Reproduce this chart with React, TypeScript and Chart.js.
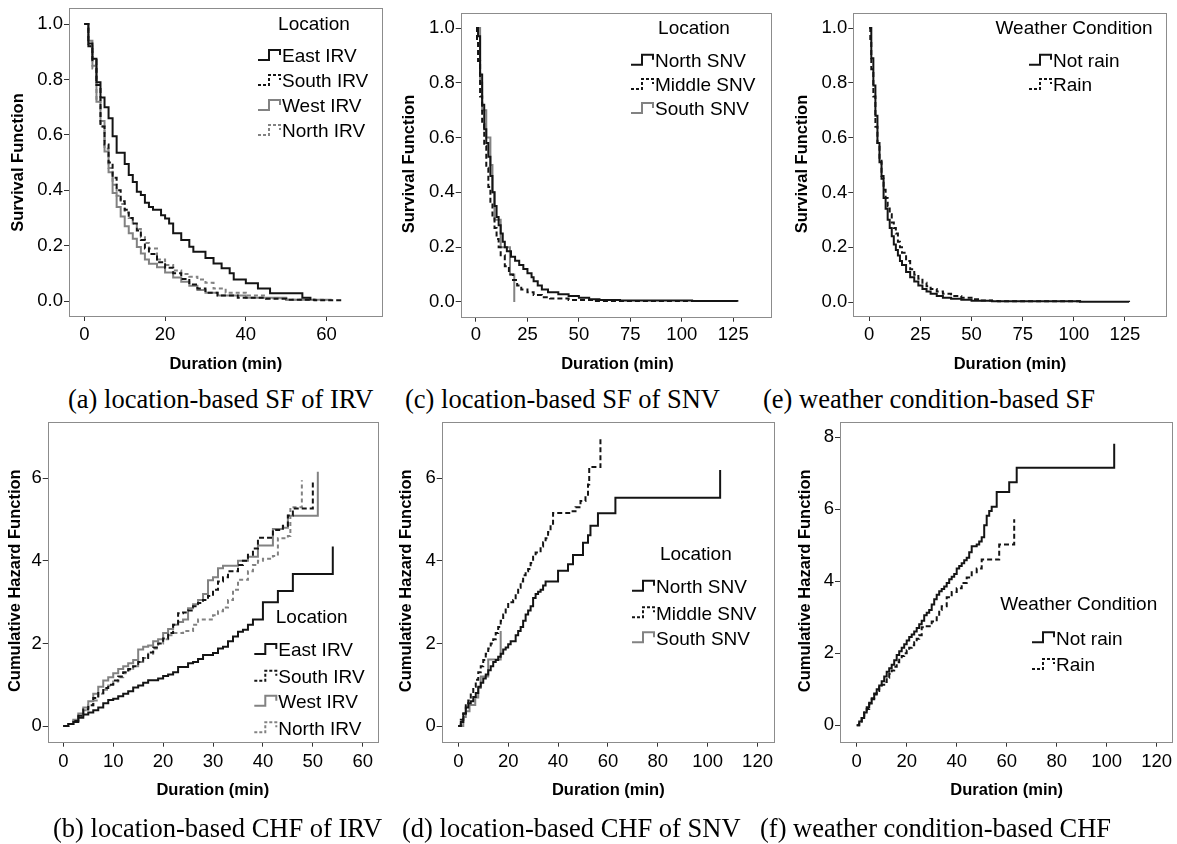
import React, { useEffect, useRef } from "react";
import { Chart, registerables } from "chart.js";

Chart.register(...registerables);

type Pt = [number, number];

// ---------- (a) Survival function, IRV by location ----------
const sfEastIRV: Pt[] = [[0,1],[1,0.93],[2,0.875],[3,0.79],[4,0.735],[5,0.70],[6,0.66],[7,0.595],[8,0.535],[10,0.495],[11,0.455],[12,0.43],[13,0.395],[14,0.383],[15,0.355],[16,0.34],[17,0.33],[19,0.31],[20,0.298],[21,0.28],[22,0.245],[24,0.22],[26,0.196],[27,0.178],[30,0.155],[32,0.136],[34,0.118],[36,0.10],[37,0.078],[40,0.064],[43,0.045],[46,0.028],[54,0.012],[56,0.003]];
const sfSouthIRV: Pt[] = [[0,1],[1,0.92],[2,0.87],[3,0.78],[4,0.63],[5,0.565],[6,0.50],[7,0.445],[8,0.40],[9,0.36],[10,0.33],[11,0.30],[12,0.28],[13,0.255],[14,0.22],[15,0.19],[16,0.17],[18,0.14],[20,0.12],[22,0.10],[24,0.08],[26,0.06],[28,0.045],[30,0.03],[33,0.02],[38,0.012],[45,0.008],[50,0.005],[57,0.003],[64,0.003]];
const sfWestIRV: Pt[] = [[0,1],[1,0.94],[2,0.85],[3,0.72],[4,0.65],[5,0.54],[6,0.465],[7,0.39],[8,0.34],[9,0.305],[10,0.27],[11,0.245],[12,0.225],[13,0.195],[14,0.172],[15,0.15],[16,0.135],[18,0.122],[20,0.103],[22,0.085],[24,0.07],[26,0.055],[28,0.04],[30,0.03],[33,0.02],[40,0.012],[50,0.005],[61,0.003]];
const sfNorthIRV: Pt[] = [[0,1],[1,0.92],[2,0.84],[3,0.73],[4,0.63],[5,0.55],[6,0.48],[7,0.42],[8,0.38],[9,0.35],[10,0.32],[11,0.30],[12,0.28],[13,0.26],[14,0.23],[15,0.21],[16,0.19],[18,0.15],[20,0.13],[22,0.11],[24,0.098],[26,0.088],[28,0.078],[30,0.066],[32,0.045],[35,0.03],[40,0.02],[45,0.01],[50,0.005],[60,0.003]];

// ---------- (c) Survival function, SNV by location ----------
const sfNorthSNV: Pt[] = [[0,1],[1,0.97],[2,0.83],[3,0.72],[4,0.63],[5,0.58],[6,0.53],[7,0.46],[8,0.40],[9,0.35],[10,0.31],[11,0.28],[12,0.25],[13,0.22],[14,0.20],[15,0.185],[17,0.165],[19,0.15],[21,0.135],[23,0.12],[25,0.105],[27,0.09],[28,0.075],[30,0.06],[32,0.045],[35,0.035],[40,0.028],[45,0.022],[50,0.015],[55,0.01],[60,0.007],[70,0.005],[105,0.003],[127,0.001]];
const sfMiddleSNV: Pt[] = [[0,1],[0.5,0.95],[1,0.88],[2,0.75],[3,0.65],[4,0.57],[5,0.49],[6,0.42],[7,0.36],[8,0.31],[9,0.27],[10,0.23],[11,0.20],[12,0.17],[14,0.13],[16,0.10],[18,0.08],[20,0.06],[22,0.045],[25,0.035],[28,0.025],[32,0.017],[36,0.012],[45,0.007],[57,0.003],[105,0.002]];
const sfSouthSNV: Pt[] = [[0,1],[2,0.8],[3,0.7],[5,0.6],[7,0.5],[8,0.4],[9,0.3],[12,0.2],[16.5,0.1],[18.6,0]];

// ---------- (e) Survival function by weather ----------
const sfNotRain: Pt[] = [[0,1],[1,0.89],[2,0.79],[3,0.68],[4,0.58],[5,0.51],[6,0.45],[7,0.38],[8,0.34],[9,0.30],[10,0.27],[11,0.24],[12,0.21],[13,0.19],[14,0.17],[15,0.15],[16,0.135],[18,0.11],[20,0.09],[22,0.075],[24,0.06],[26,0.048],[28,0.038],[30,0.03],[33,0.022],[36,0.016],[40,0.012],[45,0.008],[50,0.005],[60,0.003],[103,0.001],[127,0]];
const sfRain: Pt[] = [[0,1],[0.5,0.96],[1,0.85],[2,0.75],[3,0.64],[4,0.58],[5,0.52],[6,0.46],[7,0.41],[8,0.38],[9,0.35],[10,0.32],[11,0.29],[12,0.27],[13,0.25],[14,0.22],[15,0.20],[16,0.18],[18,0.15],[20,0.12],[22,0.10],[24,0.085],[26,0.07],[28,0.058],[30,0.048],[33,0.038],[36,0.03],[40,0.022],[45,0.016],[50,0.01],[55,0.006],[60,0.004],[63,0.003],[105,0.001]];

// ---------- (b) Cumulative hazard, IRV by location ----------
const chfEastIRV: Pt[] = [[0,0],[1,0.05],[2,0.1],[3,0.2],[4,0.28],[5,0.33],[6,0.38],[7,0.45],[8,0.55],[9,0.63],[10,0.66],[11,0.72],[12,0.78],[13,0.84],[14,0.93],[15,0.98],[16,1.05],[17,1.11],[19,1.15],[20,1.21],[21,1.25],[22,1.3],[23,1.43],[25,1.52],[26,1.55],[27,1.62],[28,1.72],[30,1.77],[31,1.88],[32,1.92],[33,2.05],[34,2.17],[35,2.28],[36,2.33],[37,2.45],[38,2.58],[40,3.0],[43,3.27],[46,3.68],[54,4.35]];
const chfSouthIRV: Pt[] = [[0,0],[1,0.05],[2,0.12],[3,0.25],[4,0.4],[5,0.5],[6,0.68],[7,0.8],[8,0.92],[9,1.0],[10,1.1],[11,1.2],[12,1.3],[13,1.38],[14,1.45],[15,1.55],[16,1.65],[17,1.78],[18,1.9],[19,2.0],[20,2.12],[21,2.25],[22,2.45],[23,2.73],[24,2.75],[25,2.8],[26,2.9],[27,2.98],[28,3.05],[29,3.15],[30,3.3],[31,3.5],[32,3.6],[33,3.75],[35,3.9],[36,4.0],[37,4.15],[38,4.3],[39,4.56],[42,4.75],[44,4.85],[45,5.1],[46,5.27],[50,5.96]];
const chfWestIRV: Pt[] = [[0,0],[1,0.05],[2,0.15],[3,0.3],[4,0.45],[5,0.6],[6,0.78],[7,0.95],[8,1.1],[9,1.18],[10,1.28],[11,1.38],[12,1.45],[13,1.52],[14,1.6],[15,1.85],[16,1.92],[17,1.95],[18,2.05],[19,2.1],[20,2.25],[21,2.35],[22,2.45],[23,2.52],[24,2.58],[25,2.85],[26,2.95],[27,3.05],[28,3.2],[29,3.53],[30,3.6],[31,3.82],[32,3.88],[35,4.0],[37,4.1],[39,4.37],[42,4.77],[44,4.8],[45,5.09],[51,6.16]];
const chfNorthIRV: Pt[] = [[0,0],[1,0.05],[2,0.12],[3,0.25],[4,0.38],[5,0.5],[6,0.62],[7,0.78],[8,0.88],[9,0.98],[10,1.08],[11,1.18],[12,1.28],[13,1.35],[14,1.45],[15,1.55],[16,1.65],[17,1.75],[18,1.88],[19,2.0],[20,2.1],[21,2.2],[22,2.25],[24,2.3],[26,2.45],[27,2.58],[30,2.68],[31,2.78],[32,2.87],[33,3.05],[34,3.3],[35,3.54],[37,3.75],[38,3.9],[39,4.0],[40,4.05],[42,4.12],[43,4.55],[45,4.6],[45.5,5.3],[47.8,5.95]];

// ---------- (d) Cumulative hazard, SNV by location ----------
const chfNorthSNV: Pt[] = [[0,0],[1,0.1],[2,0.3],[3,0.45],[4,0.55],[5,0.6],[6,0.7],[7,0.8],[8,0.95],[9,1.05],[10,1.15],[11,1.25],[12,1.35],[13,1.45],[14,1.55],[15,1.6],[16,1.68],[17,1.75],[18,1.85],[19,1.9],[20,1.98],[21,2.05],[23,2.2],[24,2.3],[25,2.4],[26,2.55],[27,2.7],[28,2.8],[29,2.9],[30,3.1],[31,3.2],[32,3.25],[33,3.3],[34,3.4],[35,3.5],[40,3.76],[44,3.92],[46,4.14],[50,4.44],[52,4.62],[53,4.85],[56,5.15],[63,5.53],[105,6.2]];
const chfMiddleSNV: Pt[] = [[0,0],[1,0.15],[2,0.3],[3,0.5],[4,0.62],[5,0.8],[6,0.95],[7,1.12],[8,1.3],[9,1.45],[10,1.6],[11,1.75],[12,1.88],[13,2.0],[14,2.1],[15,2.25],[16,2.4],[17,2.55],[18,2.7],[19,2.85],[20,3.0],[22,3.05],[23,3.2],[24,3.35],[25,3.5],[26,3.65],[27,3.75],[28,3.8],[29,3.95],[30,4.1],[31,4.2],[33,4.35],[34,4.45],[35,4.55],[36,4.7],[37,4.9],[38,5.16],[45,5.2],[47,5.3],[49,5.45],[51,5.6],[52,5.85],[52.5,6.27],[57,6.95]];
const chfSouthSNV: Pt[] = [[0,0],[2,0.22],[3,0.36],[4.5,0.51],[6.8,0.69],[8,0.92],[9,1.2],[12,1.61],[17,2.3]];

// ---------- (f) Cumulative hazard by weather ----------
const chfNotRain: Pt[] = [[0,0],[1,0.1],[2,0.2],[3,0.35],[4,0.5],[5,0.62],[6,0.75],[7,0.88],[8,1.0],[9,1.1],[10,1.22],[11,1.35],[12,1.48],[13,1.58],[14,1.68],[15,1.8],[16,1.95],[17,2.05],[18,2.15],[19,2.25],[20,2.35],[21,2.45],[22,2.52],[23,2.6],[24,2.7],[25,2.8],[26,2.9],[27,3.05],[28,3.12],[29,3.2],[30,3.35],[31,3.5],[32,3.62],[33,3.72],[34,3.78],[35,3.85],[36,3.95],[37,4.05],[38,4.12],[39,4.2],[40,4.35],[41,4.42],[42,4.5],[43,4.58],[44,4.65],[45,4.8],[46,4.97],[48,5.02],[49,5.1],[50,5.22],[51,5.55],[52,5.82],[53,5.95],[54,6.07],[56,6.48],[61,6.75],[64,7.15],[103,7.82]];
const chfRain: Pt[] = [[0,0],[1,0.1],[2,0.2],[3,0.35],[4,0.45],[5,0.6],[6,0.72],[7,0.85],[8,0.95],[9,1.05],[10,1.12],[11,1.2],[12,1.32],[13,1.42],[14,1.52],[15,1.62],[16,1.75],[17,1.85],[18,1.92],[19,2.0],[20,2.08],[21,2.15],[22,2.22],[23,2.3],[24,2.4],[25,2.5],[26,2.72],[28,2.75],[30,2.88],[32,3.0],[33,3.2],[34,3.3],[36,3.55],[38,3.7],[40,3.8],[42,3.95],[44,4.1],[46,4.25],[48,4.35],[50,4.6],[57,5.02],[63,5.72]];

// ---------- tick labels ----------
const xTicksSFIRV = [0, 20, 40, 60];
const xTicksSF125 = [0, 25, 50, 75, 100, 125];
const yTicksSF = [0, 0.2, 0.4, 0.6, 0.8, 1.0];
const xTicksCHFIRV = [0, 10, 20, 30, 40, 50, 60];
const xTicksCHF120 = [0, 20, 40, 60, 80, 100, 120];
const yTicksCHF6 = [0, 2, 4, 6];
const yTicksCHF8 = [0, 2, 4, 6, 8];

const labelsIRV = ["East IRV", "South IRV", "West IRV", "North IRV"];
const labelsSNV = ["North SNV", "Middle SNV", "South SNV"];
const labelsWeather = ["Not rain", "Rain"];

const captions = [
  "(a) location-based SF of IRV",
  "(c) location-based SF of SNV",
  "(e) weather condition-based SF",
  "(b) location-based CHF of IRV",
  "(d) location-based CHF of SNV",
  "(f) weather condition-based CHF",
];

// ---------- styles ----------
const BLACK = "#141414";
const GRAY = "#828282";
const FRAME = "#8c8c8c";
const SOLID: number[] = [];
const DASH_B = [5, 3];
const DASH_G = [4, 3];
const SANS = '"Liberation Sans", Arial, sans-serif';

interface SeriesDef { label: string; data: Pt[]; color: string; dash: number[] }
interface PanelDef {
  box: [number, number, number, number];
  frame: [number, number, number, number];
  xRange: [number, number];
  yRange: [number, number];
  xTicks: number[];
  yTicks: number[];
  yDecimals: number;
  xPad: number;
  yTitle: string;
  yTitlePos: [number, number];
  xTitlePos: [number, number];
  legendTitle: string;
  legendTitlePos: [number, number];
  legendX: number;
  legendYs: number[];
  series: SeriesDef[];
}

const irvStyles = [
  { color: BLACK, dash: SOLID },
  { color: BLACK, dash: DASH_B },
  { color: GRAY, dash: SOLID },
  { color: GRAY, dash: DASH_G },
];
const snvStyles = [
  { color: BLACK, dash: SOLID },
  { color: BLACK, dash: DASH_B },
  { color: GRAY, dash: SOLID },
];
const wxStyles = [
  { color: BLACK, dash: SOLID },
  { color: BLACK, dash: DASH_B },
];

const mk = (labels: string[], data: Pt[][], styles: { color: string; dash: number[] }[]): SeriesDef[] =>
  labels.map((l, i) => ({ label: l, data: data[i], color: styles[i].color, dash: styles[i].dash }));

const panels: PanelDef[] = [
  {
    box: [0, 0, 388, 380], frame: [69, 8.3, 382.3, 316],
    xRange: [-3.8, 73.8], yRange: [-0.054, 1.057],
    xTicks: xTicksSFIRV, yTicks: yTicksSF, yDecimals: 1, xPad: 3,
    yTitle: "Survival Function", yTitlePos: [18.3, 162.5], xTitlePos: [225.8, 364],
    legendTitle: "Location", legendTitlePos: [314, 25], legendX: 282, legendYs: [56, 81, 106, 131],
    series: mk(labelsIRV, [sfEastIRV, sfSouthIRV, sfWestIRV, sfNorthIRV], irvStyles),
  },
  {
    box: [390, 0, 386, 380], frame: [460.7, 12.7, 770.7, 316.7],
    xRange: [-7.43, 143.2], yRange: [-0.054, 1.056],
    xTicks: xTicksSF125, yTicks: yTicksSF, yDecimals: 1, xPad: 2.5,
    yTitle: "Survival Function", yTitlePos: [409, 164], xTitlePos: [617.5, 364],
    legendTitle: "Location", legendTitlePos: [694, 29], legendX: 655, legendYs: [60.7, 85, 109],
    series: mk(labelsSNV, [sfNorthSNV, sfMiddleSNV, sfSouthSNV], snvStyles),
  },
  {
    box: [780, 0, 397, 380], frame: [853.3, 12.7, 1166.7, 316],
    xRange: [-7.8, 145.4], yRange: [-0.051, 1.056],
    xTicks: xTicksSF125, yTicks: yTicksSF, yDecimals: 1, xPad: 3,
    yTitle: "Survival Function", yTitlePos: [802, 164], xTitlePos: [1010, 364],
    legendTitle: "Weather Condition", legendTitlePos: [1074, 29], legendX: 1053, legendYs: [60.7, 85],
    series: mk(labelsWeather, [sfNotRain, sfRain], wxStyles),
  },
  {
    box: [0, 415, 388, 400], frame: [47.7, 421.7, 377.7, 741.7],
    xRange: [-3.13, 63.0], yRange: [-0.38, 7.37],
    xTicks: xTicksCHFIRV, yTicks: yTicksCHF6, yDecimals: 0, xPad: 4,
    yTitle: "Cumulative Hazard Function", yTitlePos: [15, 580.7], xTitlePos: [212.8, 790.7],
    legendTitle: "Location", legendTitlePos: [311.7, 617.3], legendX: 278.3, legendYs: [650, 676.7, 701.7, 728.3],
    series: mk(labelsIRV, [chfEastIRV, chfSouthIRV, chfWestIRV, chfNorthIRV], irvStyles),
  },
  {
    box: [390, 415, 388, 400], frame: [441.7, 421.7, 774, 741.7],
    xRange: [-6.66, 126.6], yRange: [-0.38, 7.37],
    xTicks: xTicksCHF120, yTicks: yTicksCHF6, yDecimals: 0, xPad: 4,
    yTitle: "Cumulative Hazard Function", yTitlePos: [406.7, 580.8], xTitlePos: [608.3, 790.7],
    legendTitle: "Location", legendTitlePos: [695.8, 554.3], legendX: 656, legendYs: [586.7, 613.3, 638.3],
    series: mk(labelsSNV, [chfNorthSNV, chfMiddleSNV, chfSouthSNV], snvStyles),
  },
  {
    box: [780, 415, 397, 400], frame: [840, 421.7, 1171.7, 741.7],
    xRange: [-6.68, 126.0], yRange: [-0.46, 8.43],
    xTicks: xTicksCHF120, yTicks: yTicksCHF8, yDecimals: 0, xPad: 4,
    yTitle: "Cumulative Hazard Function", yTitlePos: [805, 580.8], xTitlePos: [1006.7, 790.7],
    legendTitle: "Weather Condition", legendTitlePos: [1078.7, 605], legendX: 1056, legendYs: [638.3, 665],
    series: mk(labelsWeather, [chfNotRain, chfRain], wxStyles),
  },
];

const captionPos: [number, number][] = [
  [68, 386], [405, 386], [763, 386],
  [53, 815], [402, 815], [760, 815],
];

function Panel({ def }: { def: PanelDef }) {
  const ref = useRef<HTMLCanvasElement | null>(null);
  const [bl, bt, bw, bh] = def.box;

  useEffect(() => {
    const canvas = ref.current;
    if (!canvas) return;
    const [fl, ft, fr, fb] = def.frame;
    const yW = fl - bl;
    const xH = bt + bh - fb;
    const padTop = ft - bt;
    const padRight = bl + bw - fr;

    const overlay = {
      id: "spssOverlay",
      beforeDatasetsDraw(chart: any) {
        const { ctx, chartArea: a } = chart;
        ctx.save();
        ctx.strokeStyle = FRAME;
        ctx.lineWidth = 1;
        ctx.strokeRect(Math.round(a.left) + 0.5, Math.round(a.top) + 0.5,
          Math.round(a.right - a.left), Math.round(a.bottom - a.top));
        ctx.restore();
      },
      afterDraw(chart: any) {
        const ctx: CanvasRenderingContext2D = chart.ctx;
        ctx.save();
        ctx.fillStyle = "#000";
        ctx.textAlign = "center";
        ctx.textBaseline = "middle";
        ctx.font = `bold 16.5px ${SANS}`;
        ctx.fillText("Duration (min)", def.xTitlePos[0] - bl, def.xTitlePos[1] - bt);
        ctx.save();
        ctx.translate(def.yTitlePos[0] - bl, def.yTitlePos[1] - bt);
        ctx.rotate(-Math.PI / 2);
        ctx.fillText(def.yTitle, 0, 0);
        ctx.restore();

        ctx.font = `19px ${SANS}`;
        ctx.fillText(def.legendTitle, def.legendTitlePos[0] - bl, def.legendTitlePos[1] - bt);
        ctx.textAlign = "left";
        def.series.forEach((s, i) => {
          const yc = def.legendYs[i] - bt;
          const tx = def.legendX - bl;
          const x0 = tx - 24;
          ctx.beginPath();
          ctx.moveTo(x0, yc + 4);
          ctx.lineTo(x0 + 11, yc + 4);
          ctx.lineTo(x0 + 11, yc - 6);
          ctx.lineTo(x0 + 22, yc - 6);
          ctx.lineTo(x0 + 22, yc - 1);
          ctx.strokeStyle = s.color;
          ctx.lineWidth = 2;
          ctx.setLineDash(s.dash.length ? [3, 2] : []);
          ctx.stroke();
          ctx.setLineDash([]);
          ctx.fillStyle = "#000";
          ctx.fillText(s.label, tx, yc + 1);
        });
        ctx.restore();
      },
    };

    const tickFont = { family: SANS, size: 18.5 };
    const chart = new Chart(canvas, {
      type: "line",
      data: {
        datasets: def.series.map((s) => ({
          label: s.label,
          data: s.data.map(([x, y]) => ({ x, y })),
          borderColor: s.color,
          borderWidth: 2,
          borderDash: s.dash,
          stepped: "before" as const,
          pointRadius: 0,
          fill: false,
          tension: 0,
        })),
      },
      options: {
        animation: false,
        responsive: false,
        maintainAspectRatio: false,
        events: [],
        layout: { padding: { top: padTop, right: padRight, left: 0, bottom: 0 } },
        plugins: { legend: { display: false }, tooltip: { enabled: false }, title: { display: false } },
        scales: {
          x: {
            type: "linear",
            min: def.xRange[0],
            max: def.xRange[1],
            afterBuildTicks: (s: any) => { s.ticks = def.xTicks.map((v) => ({ value: v })); },
            afterFit: (s: any) => { s.height = xH; s.paddingLeft = 0; s.paddingRight = 0; },
            grid: { drawOnChartArea: false, drawTicks: true, tickLength: 5, color: "#333" },
            border: { display: false },
            ticks: {
              font: tickFont, color: "#000", padding: def.xPad, maxRotation: 0, autoSkip: false,
              callback: (v: any) => String(v),
            },
          },
          y: {
            type: "linear",
            min: def.yRange[0],
            max: def.yRange[1],
            afterBuildTicks: (s: any) => { s.ticks = def.yTicks.map((v) => ({ value: v })); },
            afterFit: (s: any) => { s.width = yW; s.paddingTop = 0; s.paddingBottom = 0; },
            grid: { drawOnChartArea: false, drawTicks: true, tickLength: 5, color: "#333" },
            border: { display: false },
            ticks: {
              font: tickFont, color: "#000", padding: 1, autoSkip: false,
              callback: (v: any) => Number(v).toFixed(def.yDecimals),
            },
          },
        },
      },
      plugins: [overlay],
    } as any);
    return () => chart.destroy();
  }, [def]);

  return (
    <canvas
      ref={ref}
      width={bw}
      height={bh}
      style={{ position: "absolute", left: bl, top: bt, width: bw, height: bh }}
    />
  );
}

export default function App() {
  return (
    <div style={{ position: "absolute", left: 0, top: 0, width: 1177, height: 844, background: "#fff", overflow: "hidden" }}>
      {panels.map((p, i) => (
        <Panel key={i} def={p} />
      ))}
      {captions.map((c, i) => (
        <div
          key={"c" + i}
          style={{
            position: "absolute",
            left: captionPos[i][0],
            top: captionPos[i][1],
            font: '26.5px "Liberation Serif", "Times New Roman", serif',
            lineHeight: "26.5px",
            whiteSpace: "nowrap",
            color: "#000",
          }}
        >
          {c}
        </div>
      ))}
    </div>
  );
}
